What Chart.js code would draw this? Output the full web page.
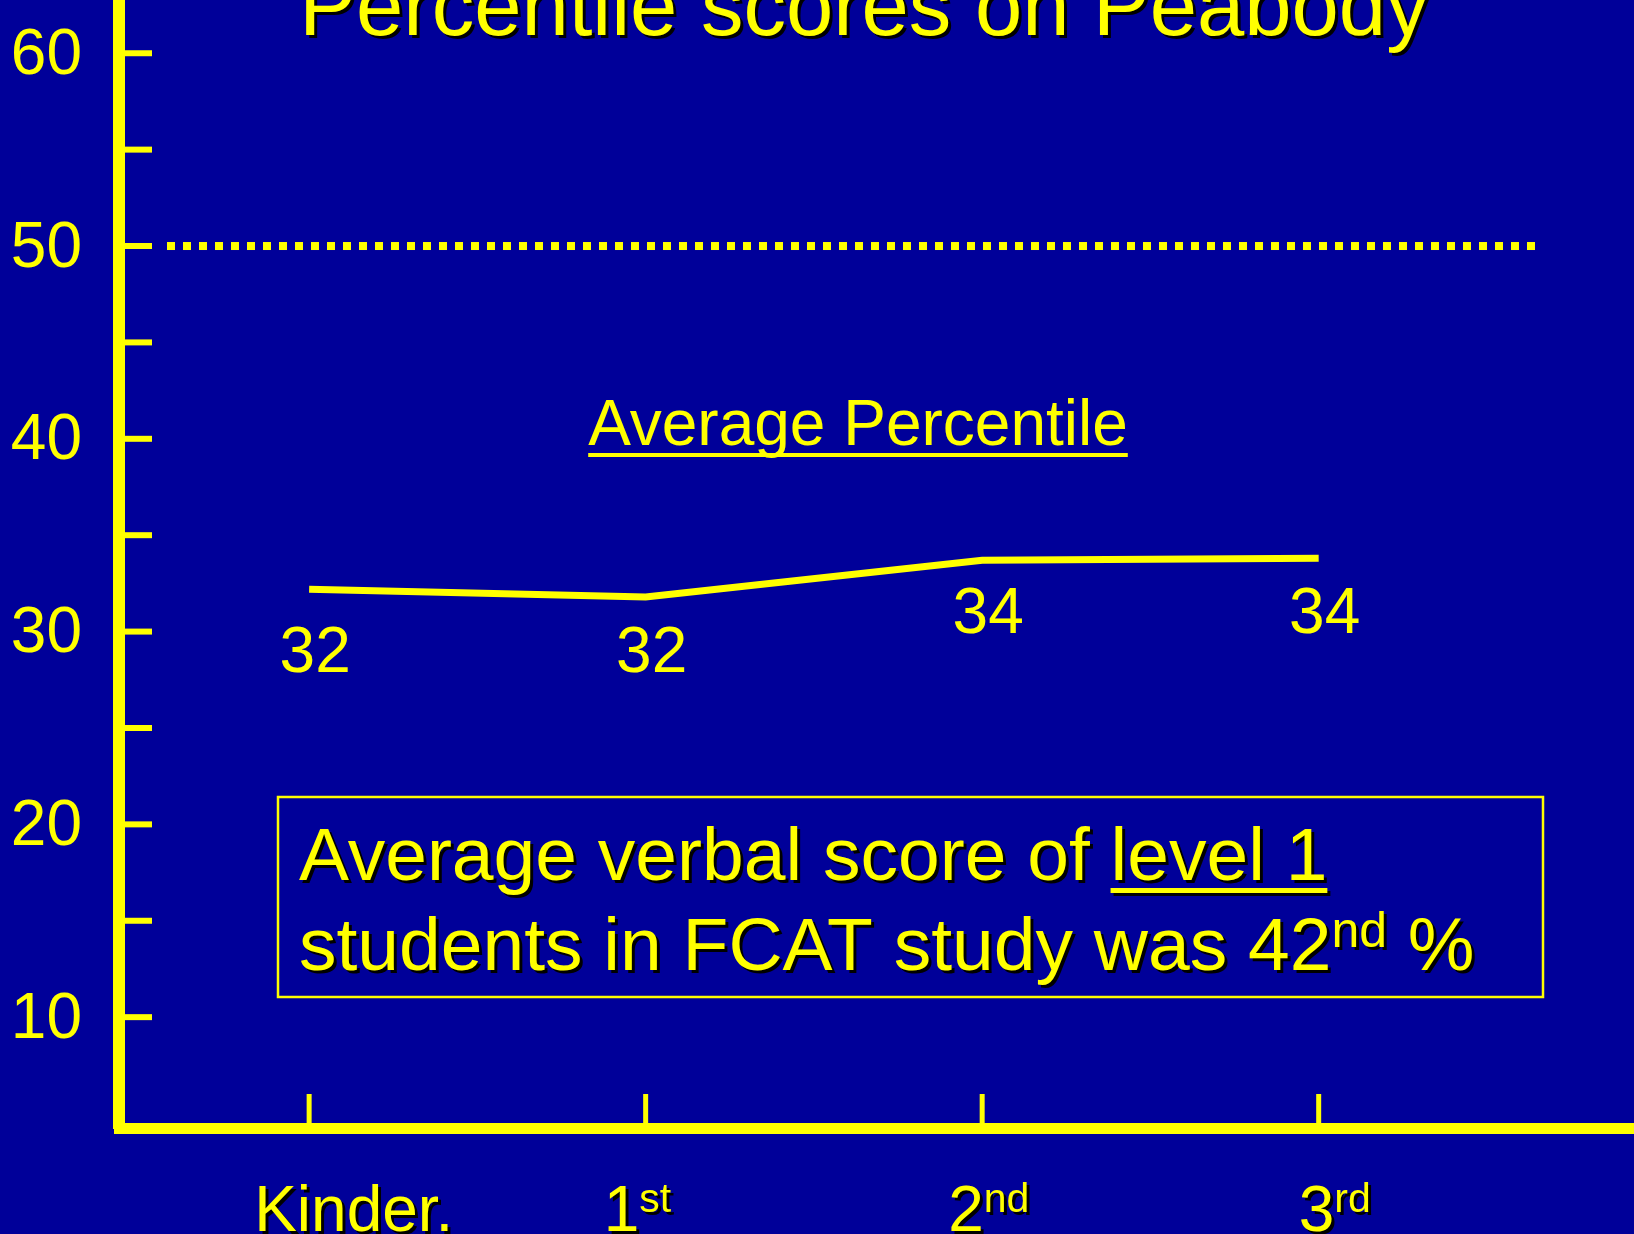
<!DOCTYPE html>
<html>
<head>
<meta charset="utf-8">
<script src="https://cdn.jsdelivr.net/npm/chart.js@4.4.1/dist/chart.umd.min.js"></script>
<style>
  html, body { margin:0; padding:0; background:#000099; overflow:hidden; }
  #wrap { position:relative; width:1634px; height:1234px; }
</style>
</head>
<body>
<div id="wrap"><canvas id="c"></canvas></div>
<script>
// data
const grades = ['Kinder.', '1', '2', '3']
const gradeSup = ['', 'st', 'nd', 'rd']
const avgPercentile = [32.2, 31.8, 33.7, 33.8]
const pointLabels = ['32', '32', '34', '34']
const yTickValues = [10, 15, 20, 25, 30, 35, 40, 45, 50, 55, 60]
const nationalAvg = 50
const titleText = 'Percentile scores on Peabody'
const seriesName = 'Average Percentile'
const noteLine1 = ['Average verbal score of ', 'level 1']
const noteLine2 = ['students in FCAT study was 42', 'nd', ' %']

const YEL = '#ffff00'
const FONT = '"Liberation Sans", Arial, sans-serif'

// draws a run of text pieces (for superscripts / underlines)
function drawRuns(ctx, x, y, runs, shadow){
  for(const r of runs){
    ctx.font = `${r.size}px ${FONT}`
    const w = ctx.measureText(r.text).width
    ctx.save()
    if(shadow){ ctx.shadowColor = '#000'; ctx.shadowOffsetX = 3; ctx.shadowOffsetY = 3; ctx.shadowBlur = 0 }
    ctx.fillStyle = YEL
    ctx.textBaseline = 'alphabetic'
    ctx.textAlign = 'left'
    ctx.fillText(r.text, x, y - (r.rise||0))
    if(r.underline){ ctx.fillRect(x, y + r.underline[0], w, r.underline[1]) }
    ctx.restore()
    x += w
  }
}

const decor = {
  id: 'decor',
  afterDatasetsDraw(chart, args, o){
    const {ctx, chartArea:ca, scales:{x, y}} = chart
    ctx.save()
    // y tick marks, drawn inside the plot
    ctx.strokeStyle = YEL
    ctx.lineWidth = 6
    for(const t of y.ticks){
      const py = y.getPixelForValue(t.value)
      ctx.beginPath(); ctx.moveTo(ca.left + 5, py); ctx.lineTo(ca.left + 33, py); ctx.stroke()
    }
    // x tick marks
    ctx.lineWidth = 5
    grades.forEach((g, i) => {
      const px = x.getPixelForValue(i)
      ctx.beginPath(); ctx.moveTo(px, ca.bottom - 4); ctx.lineTo(px, ca.bottom - 34); ctx.stroke()
    })
    // dotted 50th percentile line
    const py50 = y.getPixelForValue(nationalAvg)
    ctx.lineWidth = 8
    ctx.setLineDash([8, 8])
    ctx.beginPath(); ctx.moveTo(ca.left + 48, py50); ctx.lineTo(ca.right - 98, py50); ctx.stroke()
    ctx.setLineDash([])

    // value labels under the line
    ctx.fillStyle = YEL
    ctx.font = `64px ${FONT}`
    ctx.textAlign = 'center'
    ctx.textBaseline = 'middle'
    pointLabels.forEach((l, i) => {
      ctx.fillText(l, x.getPixelForValue(i) + 6, y.getPixelForValue(Number(l)) + 61)
    })

    // x category labels
    grades.forEach((g, i) => {
      const px = x.getPixelForValue(i) + o.labelShift[i]
      drawRuns(ctx, px, 1231, [{text:g, size:64}, {text:gradeSup[i], size:41, rise:19}], true)
    })

    // title (runs off the top of the slide)
    ctx.save()
    ctx.shadowColor = '#000'; ctx.shadowOffsetX = 3; ctx.shadowOffsetY = 3
    ctx.font = `85px ${FONT}`
    ctx.textAlign = 'center'
    ctx.textBaseline = 'alphabetic'
    ctx.fillText(titleText, 864, 35)
    ctx.restore()

    // series name, underlined
    ctx.font = `64px ${FONT}`
    const sw = ctx.measureText(seriesName).width
    drawRuns(ctx, 858 - sw/2, 445, [{text:seriesName, size:64, underline:[8, 4]}], false)

    // note box
    ctx.strokeStyle = YEL
    ctx.lineWidth = 2.5
    ctx.strokeRect(278, 797, 1265, 200)
    drawRuns(ctx, 299, 880, [{text:noteLine1[0], size:75}, {text:noteLine1[1], size:75, underline:[8, 5]}], true)
    drawRuns(ctx, 299, 970, [{text:noteLine2[0], size:75}, {text:noteLine2[1], size:50, rise:23}, {text:noteLine2[2], size:75}], true)
    ctx.restore()
  }
}

new Chart(document.getElementById('c'), {
  type: 'line',
  data: {
    datasets: [{
      label: seriesName,
      data: grades.map((g, i) => ({x: i, y: avgPercentile[i]})),
      borderColor: YEL,
      borderWidth: 7,
      borderCapStyle: 'butt',
      pointRadius: 0,
      tension: 0,
      fill: false
    }]
  },
  options: {
    responsive: true,
    maintainAspectRatio: false,
    animation: false,
    layout: { padding: { top: 6, left: 0, right: 0, bottom: 0 } },
    plugins: {
      legend: { display: false },
      tooltip: { enabled: false },
      decor: { labelShift: [-55, -42, -34, -20] }
    },
    scales: {
      x: {
        type: 'linear',
        min: -0.565, max: 3.937,
        grid: { display: false, drawTicks: false },
        ticks: { display: false },
        border: { display: true, color: YEL, width: 11 },
        afterFit: s => { s.height = 106; s.paddingLeft = 0; s.paddingRight = 0 }
      },
      y: {
        min: 4.25, max: 62.45,
        grid: { display: false, drawTicks: false },
        border: { display: true, color: YEL, width: 12 },
        afterBuildTicks: s => { s.ticks = yTickValues.map(v => ({value: v})) },
        ticks: {
          color: YEL,
          font: { family: FONT, size: 64 },
          padding: 37,
          labelOffset: 3,
          autoSkip: false,
          callback: v => v % 10 === 0 ? String(v) : ''
        },
        afterFit: s => { s.width = 119; s.paddingTop = 0; s.paddingBottom = 0 }
      }
    }
  },
  plugins: [decor]
})
</script>
</body>
</html>
